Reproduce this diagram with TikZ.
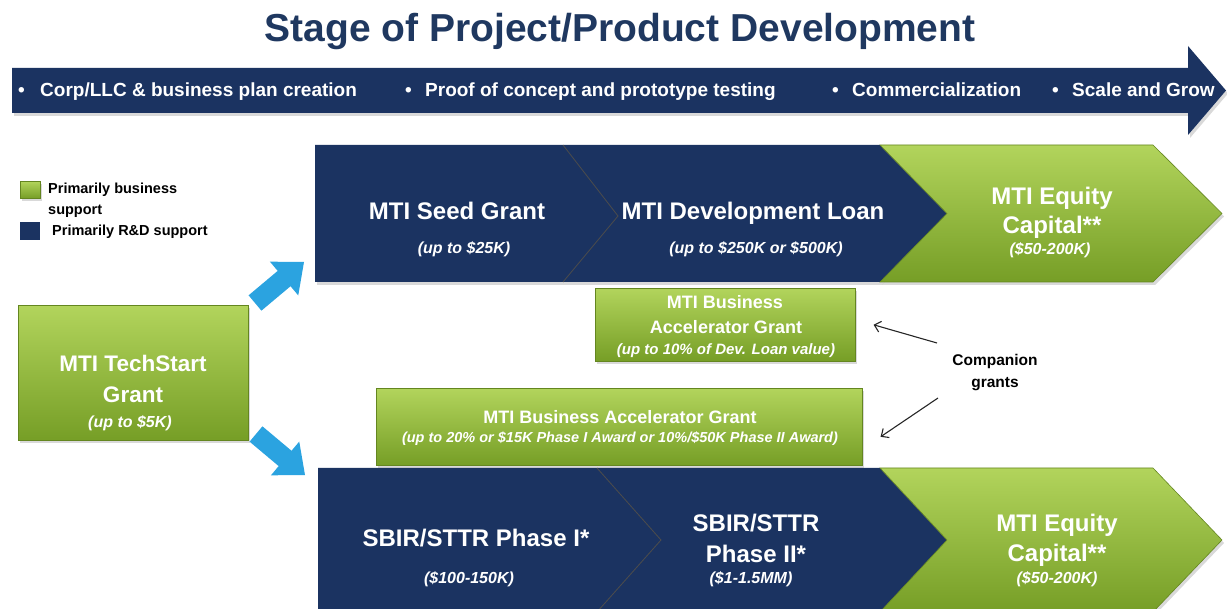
\documentclass[tikz,border=0pt]{standalone}
\usepackage{fontspec}
\setmainfont{Liberation Sans}
\usetikzlibrary{shadows,arrows.meta}
\definecolor{navy}{RGB}{27,51,97}
\definecolor{titlenavy}{RGB}{31,56,96}
\definecolor{gtop}{RGB}{178,212,92}
\definecolor{gbot}{RGB}{118,158,38}
\definecolor{skyblue}{RGB}{43,163,224}
\newcommand{\fsz}[1]{\fontsize{#1}{#1}\selectfont}
\begin{document}
\begin{tikzpicture}[x=1pt,y=-1pt,
 greenfill/.style={top color=gtop, bottom color=gbot, draw=gbot!85!black, line width=0.6pt},
 shad/.style={drop shadow={opacity=0.3,shadow xshift=2pt,shadow yshift=-3pt}},
 txt/.style={text=white, font=\bfseries\fsz{24}, anchor=base, inner sep=0pt},
 midtxt/.style={text=white, font=\bfseries\fsz{18}, anchor=base, inner sep=0pt},
 note/.style={text=white, font=\bfseries\itshape\fsz{16}, anchor=base, inner sep=0pt},
 bartxt/.style={text=white, font=\bfseries\fsz{19}, anchor=base west, inner sep=0pt},
 legtxt/.style={text=black, font=\bfseries\fsz{14.5}, anchor=base west, inner sep=0pt},
 box/.style={greenfill, shad, rectangle, inner sep=0pt, anchor=north west},
 divider/.style={draw=black!70, line width=0.8pt},
 thinarrow/.style={draw=black!85, line width=1.1pt, -{Straight Barb[length=6pt,width=11pt]}},
]
\useasboundingbox (0,0) rectangle (1227,609);
\clip (0,0) rectangle (1227,609);

% title
\node[font=\bfseries\fsz{39}, text=titlenavy, anchor=base, inner sep=0pt] (title) at (620,42) {Stage of Project/Product Development};

% top stage arrow
\fill[navy, shad] (12,68) -- (1188,68) -- (1188,46) -- (1226,90.5) -- (1188,135) -- (1188,113) -- (12,113) -- cycle;
\node[bartxt] (bul1) at (18,97) {•};
\node[bartxt] (st1) at (40,97) {Corp/LLC \& business plan creation};
\node[bartxt] (bul2) at (405,97) {•};
\node[bartxt] (st2) at (425,97) {Proof of concept and prototype testing};
\node[bartxt] (bul3) at (832,97) {•};
\node[bartxt] (st3) at (852,97) {Commercialization};
\node[bartxt] (bul4) at (1052,97) {•};
\node[bartxt] (st4) at (1072,97) {Scale and Grow};

% legend
\node[box, minimum width=20pt, minimum height=17pt] (leggreen) at (20,181) {};
\node[rectangle, fill=navy, inner sep=0pt, anchor=north west, minimum width=20pt, minimum height=18pt] (legnavy) at (20,222) {};
\node[legtxt] (lg1) at (48,194) {Primarily business};
\node[legtxt] (lg2) at (48,215) {support};
\node[legtxt] (lg3) at (52,236) {Primarily R\&D support};

% TechStart
\node[box, minimum width=230pt, minimum height=135pt] (techstart) at (18,305) {};
\node[txt, font=\bfseries\fsz{22.5}] (ts1) at (133,372) {MTI TechStart};
\node[txt, font=\bfseries\fsz{22.5}] (ts2) at (133,403) {Grant};
\node[note] (ts3) at (130,428) {(up to \$5K)};

% blue arrows
\begin{scope}[shift={(255,303)}, rotate=40]
\fill[skyblue] (0,-10) -- (38,-10) -- (38,-22) -- (64,0) -- (38,22) -- (38,10) -- (0,10) -- cycle;
\end{scope}
\begin{scope}[shift={(256,434)}, rotate=-40]
\fill[skyblue] (0,-10) -- (38,-10) -- (38,-22) -- (64,0) -- (38,22) -- (38,10) -- (0,10) -- cycle;
\end{scope}

% top chevron row
\fill[navy, shad] (315,145) -- (880,145) -- (947,213.5) -- (880,282) -- (315,282) -- cycle;
\path[greenfill, shad] (880,145) -- (1153,145) -- (1222,213.5) -- (1153,282) -- (880,282) -- (947,213.5) -- cycle;
\draw[divider] (563,145) -- (618,216) -- (563,282);
\node[txt] (seed) at (457,220) {MTI Seed Grant};
\node[note] (seedamt) at (464,254) {(up to \$25K)};
\node[txt] (dev) at (753,220) {MTI Development Loan};
\node[note] (devamt) at (756,254) {(up to \$250K or \$500K)};
\node[txt] (eq1a) at (1052,205) {MTI Equity};
\node[txt] (eq1b) at (1052,234) {Capital**};
\node[note] (eq1c) at (1050,255) {(\$50-200K)};

% accelerator boxes
\node[box, minimum width=260pt, minimum height=73pt] (acc1) at (595,288) {};
\node[midtxt] (acc1a) at (725,309) {MTI Business};
\node[midtxt] (acc1b) at (726,334) {Accelerator Grant};
\node[note, font=\bfseries\itshape\fsz{15}] (acc1c) at (726,355) {(up to 10\% of Dev. Loan value)};

\node[box, minimum width=486pt, minimum height=77pt] (acc2) at (376,388) {};
\node[midtxt] (acc2a) at (620,424) {MTI Business Accelerator Grant};
\node[note, font=\bfseries\itshape\fsz{14.5}] (acc2b) at (620,443) {(up to 20\% or \$15K Phase I Award or 10\%/\$50K Phase II Award)};

% companion grants
\node[text=black, font=\bfseries\fsz{15.5}, anchor=base, inner sep=0pt] (comp1) at (995,366) {Companion};
\node[text=black, font=\bfseries\fsz{15.5}, anchor=base, inner sep=0pt] (comp2) at (995,388) {grants};
\coordinate (cs1) at (937,343);
\coordinate (cs2) at (938,398);
\draw[thinarrow] (cs1) -- ([xshift=18pt]acc1.east);
\draw[thinarrow] (cs2) -- ([xshift=18pt,yshift=-10pt]acc2.east);

% bottom chevron row
\fill[navy, shad] (318,468) -- (880,468) -- (947,540) -- (880,612) -- (318,612) -- cycle;
\path[greenfill, shad] (880,468) -- (1153,468) -- (1222,540) -- (1153,612) -- (880,612) -- (947,540) -- cycle;
\draw[divider] (597,468) -- (661,540) -- (597,612);
\node[txt] (sb1) at (476,547) {SBIR/STTR Phase I*};
\node[note] (sb1amt) at (469,583) {(\$100-150K)};
\node[txt] (sb2a) at (756,532) {SBIR/STTR};
\node[txt] (sb2b) at (756,562) {Phase II*};
\node[note] (sb2amt) at (751,583) {(\$1-1.5MM)};
\node[txt] (eq2a) at (1057,532) {MTI Equity};
\node[txt] (eq2b) at (1057,561) {Capital**};
\node[note] (eq2c) at (1057,583) {(\$50-200K)};
\end{tikzpicture}
\end{document}
